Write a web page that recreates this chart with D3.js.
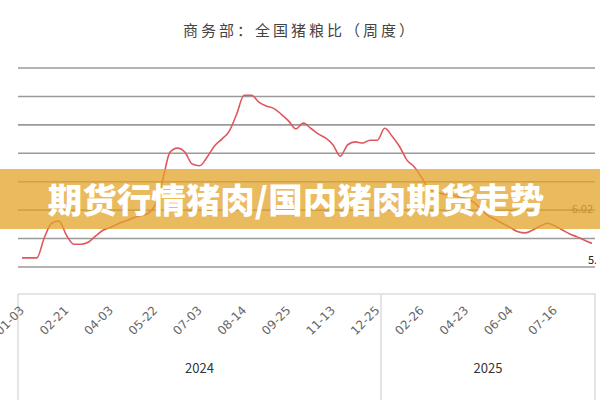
<!DOCTYPE html>
<html>
<head>
<meta charset="utf-8">
<script src="https://cdn.jsdelivr.net/npm/d3@7"></script>
<style>
  body { margin: 0; background: #fff; }
  svg { display: block; font-family: "Noto Sans CJK SC", "DejaVu Sans", sans-serif; }
</style>
</head>
<body>
<div id="chart"></div>
<script>
// weekly dates (some holiday weeks are missing in the source)
const dates = [
  "2024-01-03","2024-01-10","2024-01-17","2024-01-24","2024-01-31","2024-02-07","2024-02-21",
  "2024-02-28","2024-03-06","2024-03-13","2024-03-20","2024-03-27","2024-04-03",
  "2024-04-10","2024-04-17","2024-04-24","2024-05-08","2024-05-15","2024-05-22",
  "2024-05-29","2024-06-05","2024-06-12","2024-06-19","2024-06-26","2024-07-03",
  "2024-07-10","2024-07-17","2024-07-24","2024-07-31","2024-08-07","2024-08-14",
  "2024-08-21","2024-08-28","2024-09-04","2024-09-11","2024-09-18","2024-09-25",
  "2024-10-09","2024-10-16","2024-10-23","2024-10-30","2024-11-06","2024-11-13",
  "2024-11-20","2024-11-27","2024-12-04","2024-12-11","2024-12-18","2024-12-25",
  "2025-01-02","2025-01-08","2025-01-15","2025-01-22","2025-02-12","2025-02-26",
  "2025-03-05","2025-03-12","2025-03-19","2025-03-26","2025-04-09","2025-04-23",
  "2025-04-30","2025-05-07","2025-05-14","2025-05-21","2025-05-28","2025-06-04",
  "2025-06-11","2025-06-18","2025-06-25","2025-07-02","2025-07-09","2025-07-16",
  "2025-07-23","2025-07-30","2025-08-06","2025-08-13","2025-08-20"
];

// pig-grain ratio
const ratio = [
  5.16, 5.16, 5.16, 5.51, 5.77, 5.81, 5.56,
  5.40, 5.40, 5.44, 5.55, 5.65, 5.70,
  5.76, 5.81, 5.86, 5.90, 5.94, 6.09,
  6.53, 7.02, 7.09, 7.02, 6.81, 6.78,
  6.93, 7.13, 7.25, 7.39, 7.69, 8.02,
  8.02, 7.90, 7.83, 7.79, 7.69, 7.57,
  7.43, 7.53, 7.44, 7.34, 7.27, 7.15,
  6.95, 7.15, 7.20, 7.18, 7.23, 7.23,
  7.44, 7.30, 7.12, 6.88, 6.76, 6.57,
  6.37, 6.32, 6.28, 6.27, 6.23, 6.20,
  6.14, 6.02, 5.90, 5.83, 5.76, 5.69,
  5.62, 5.60, 5.65, 5.72, 5.77, 5.72,
  5.65, 5.58, 5.53, 5.47, 5.42, 5.42
];

const yTicks = [5, 5.5, 6, 6.5, 7, 7.5, 8, 8.5];
const years = ["2024", "2025"];
const markLabel = "6.02";
const title = "商务部：全国猪粮比（周度）";
const banner = "期货行情猪肉/国内猪肉期货走势";

const width = 600, height = 400;

const svg = d3.select("#chart")
  .append("svg")
  .attr("width", width)
  .attr("height", height);

svg.append("rect").attr("width", width).attr("height", height).attr("fill", "#fff");

// scales
const x = d3.scalePoint().domain(dates).range([22, 592]);
const y = d3.scaleLinear().domain([5, 8.5]).range([267, 68]);

// title
svg.append("text")
  .attr("x", 300).attr("y", 36)
  .attr("text-anchor", "middle")
  .style("font-size", "15px")
  .style("letter-spacing", "3px")
  .attr("fill", "#444")
  .text(title);

// grid lines
svg.append("g")
  .selectAll("line")
  .data(yTicks)
  .join("line")
  .attr("x1", 18).attr("x2", 595)
  .attr("y1", d => y(d)).attr("y2", d => y(d))
  .attr("stroke", "#9a9a9a")
  .attr("stroke-width", 1.6);

// value label on the right
svg.append("text")
  .attr("x", 593).attr("y", y(6.02) + 4)
  .attr("text-anchor", "end")
  .style("font-size", "11px")
  .attr("fill", "#555")
  .text(markLabel);

// last value label, cut by the plot edge
svg.append("clipPath").attr("id", "edge")
  .append("rect").attr("x", 0).attr("y", 0).attr("width", 596).attr("height", height);
svg.append("text")
  .attr("clip-path", "url(#edge)")
  .attr("x", 588).attr("y", 264)
  .style("font-size", "11px")
  .attr("fill", "#222")
  .text(d3.format(".2f")(ratio[ratio.length - 1]));

// the line
const line = d3.line()
  .x((d, i) => x(dates[i]))
  .y(d => y(d))
  .curve(d3.curveMonotoneX);

svg.append("path")
  .datum(ratio)
  .attr("d", line)
  .attr("fill", "none")
  .attr("stroke", "#e0575e")
  .attr("stroke-width", 1.6)
  .attr("stroke-linejoin", "round");

// x axis frame
const frame = svg.append("g").attr("stroke", "#dcdcdc").attr("stroke-width", 1.5);
const split = (x(dates[48]) + x(dates[49])) / 2;
frame.append("line").attr("x1", 18).attr("x2", 596).attr("y1", 294).attr("y2", 294);
[18, split, 595].forEach(v => {
  frame.append("line").attr("x1", v).attr("x2", v).attr("y1", 294).attr("y2", 400);
});

// tick labels, every 6th week
const tickDates = dates.filter((d, i) => i % 6 === 0);
svg.append("g")
  .selectAll("text")
  .data(tickDates)
  .join("text")
  .attr("transform", d => `translate(${x(d) + 3}, 311) rotate(-45)`)
  .attr("text-anchor", "end")
  .style("font-size", "12px")
  .style("font-family", "DejaVu Sans, sans-serif")
  .attr("fill", "#666")
  .text(d => d.slice(5));

// year labels
const yearCenters = [(18 + split) / 2, (split + 595) / 2];
svg.append("g")
  .selectAll("text")
  .data(years)
  .join("text")
  .attr("x", (d, i) => yearCenters[i])
  .attr("y", 373)
  .attr("text-anchor", "middle")
  .style("font-size", "13px")
  .attr("fill", "#333")
  .text(d => d);

// banner over the chart
svg.append("rect")
  .attr("x", 0).attr("y", 169)
  .attr("width", width).attr("height", 60)
  .attr("fill", "rgb(227,163,40)")
  .attr("opacity", 0.75);

svg.append("text")
  .attr("x", 296).attr("y", 213)
  .attr("text-anchor", "middle")
  .style("font-size", "34.5px")
  .style("font-weight", "900")
  .attr("fill", "#fff")
  .text(banner);
</script>
</body>
</html>
